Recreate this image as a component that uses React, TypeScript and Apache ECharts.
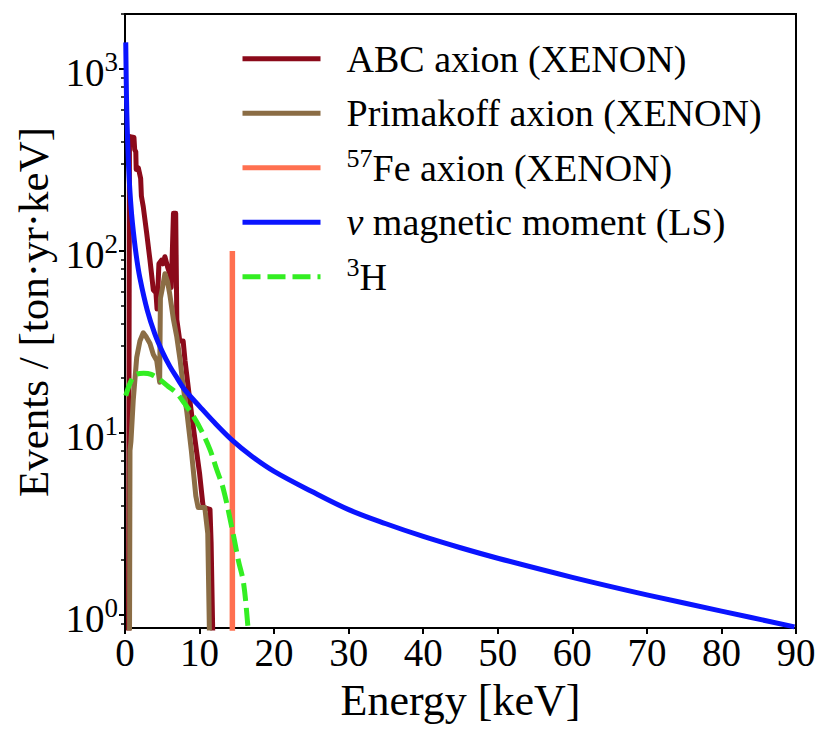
import React, { useEffect, useRef } from "react";
import * as echarts from "echarts";

const FONT = "'Liberation Serif', 'DejaVu Serif', serif";

// ---- axis settings (data units) ----
const xTickStep = 10;
const xMinValue = 0;
const xMaxValue = 90;
const yMinValue = 0.848;
const yMaxValue = 2004;
const yDecadeExponents = [0, 1, 2, 3];
const yMinorValues = [
  0.9,
  2, 3, 4, 5, 6, 7, 8, 9,
  20, 30, 40, 50, 60, 70, 80, 90,
  200, 300, 400, 500, 600, 700, 800, 900,
  2000,
];

// ---- series names ----
const seriesNames = [
  "ABC axion (XENON)",
  "Primakoff axion (XENON)",
  "57Fe axion (XENON)",
  "ν magnetic moment (LS)",
  "3H",
];

// ---- ABC axion (XENON) ----
const abcEnergy = [
  0.45, 0.6, 0.67, 1.2, 1.3, 1.45, 1.5, 1.8, 2.1, 2.2, 2.45, 2.9, 3.35, 3.8,
  4.15, 4.3, 4.55, 4.9, 5.1, 5.35, 5.7, 6.0, 6.2, 6.35, 6.5, 6.8, 6.95, 7.35,
  7.8, 8.05, 8.7, 9.4, 10.0, 10.4, 10.5, 11.4, 11.55, 11.9,
];
const abcEvents = [
  0.3, 400, 425, 420, 360, 350, 280, 285, 250, 200, 175, 126, 89, 61,
  59, 48, 85, 89, 85, 93, 82, 75, 63, 100, 161, 161, 42, 32,
  32, 25, 15, 9.1, 6.0, 4.2, 3.9, 3.8, 2.5, 0.4,
];

// ---- Primakoff axion (XENON) ----
const primEnergy = [
  0.58, 0.67, 0.8, 1.1, 1.57, 2.0, 2.45, 2.8, 3.35, 3.8, 4.25, 4.65, 4.75,
  5.0, 5.36, 5.7, 6.0, 6.5, 6.93, 7.4, 7.8, 8.3, 8.9, 9.5, 9.8, 10.7, 11.1,
  11.45,
];
const primEvents = [
  0.3, 8, 9, 15, 26, 32, 35.5, 34, 31, 27, 25, 19, 55,
  62, 75, 68, 58, 42, 34, 25, 18, 13, 8, 4.5, 3.9, 3.9, 2.8,
  0.4,
];

// ---- 57Fe axion (XENON) ----
const feEnergy = [14.4, 14.4];
const feEvents = [0.5, 100];

// ---- ν magnetic moment (LS) ----
const numuEnergy = [
  0.1, 0.2, 0.3, 0.5, 0.75, 1.0, 1.5, 2.0, 3.0, 4.0, 5.0, 6.0, 7.0, 8.0, 10,
  12, 14.4, 17, 20, 25, 30, 35, 40, 45, 50, 60, 70, 80, 89.8,
];
const numuEvents = [
  1400, 700, 470, 280, 188, 142, 95, 71, 47, 35, 28, 23.3, 20, 17.3, 14.0,
  11.4, 9.1, 7.45, 6.15, 4.78, 3.79, 3.17, 2.7, 2.34, 2.05, 1.61, 1.29, 1.05,
  0.86,
];

// ---- 3H ----
const h3Energy = [
  0.1, 0.5, 1.0, 1.5, 2.5, 3.5, 4.7, 5.8, 6.9, 8.0, 9.2, 10.3, 11.4, 12.3,
  13.2, 14.5, 15.2, 15.9, 16.5, 16.8,
];
const h3Events = [
  16, 18, 20, 21, 21.3, 21, 19.6, 18, 16.6, 14.5, 12.3, 10.2, 8.1, 6.3,
  4.9, 2.8, 2.0, 1.5, 0.85, 0.6,
];

const seriesColors = ["#8b0a1a", "#8b6d45", "#ff7050", "#0a14ff", "#33ee22"];

function toLogPairs(energy: number[], events: number[]) {
  return energy.map((e, i) => [e, Math.log10(events[i])]);
}

function legendLabel(name: string): string {
  if (name.startsWith("57")) return `{s|57}${name.slice(2)}`;
  if (name === "3H") return `{s|3}H`;
  if (name.startsWith("ν")) return `{i|ν}${name.slice(1)}`;
  return name;
}

export default function App() {
  const ref = useRef<HTMLDivElement>(null);

  useEffect(() => {
    if (!ref.current) return;
    const chart = echarts.init(ref.current, undefined, { renderer: "svg" });

    const yMin = Math.log10(yMinValue);
    const yMax = Math.log10(yMaxValue);
    const minorLogs = yMinorValues.map((v) => Math.log10(v));
    const LW = 5;

    const lineBase = (idx: number, energy: number[], events: number[], extra: any = {}, smooth: any = false) => ({
      type: "line",
      name: seriesNames[idx],
      data: toLogPairs(energy, events),
      symbol: "none",
      showSymbol: false,
      clip: true,
      silent: true,
      smooth,
      emphasis: { disabled: true },
      itemStyle: { color: seriesColors[idx] },
      lineStyle: {
        color: seriesColors[idx],
        width: LW,
        join: "round",
        ...extra,
      },
    });

    chart.setOption({
      animation: false,
      backgroundColor: "#ffffff",
      grid: {
        left: 125,
        right: 34,
        top: 14,
        bottom: 110,
        show: true,
        borderColor: "#000",
        borderWidth: 2,
        backgroundColor: "transparent",
      },
      legend: {
        orient: "vertical",
        left: 240,
        top: 36.7,
        padding: 0,
        itemGap: 10.5,
        itemWidth: 78,
        itemHeight: 5,
        itemStyle: { opacity: 0 },
        lineStyle: { width: LW },
        selectedMode: false,
        data: seriesNames,
        formatter: legendLabel,
        textStyle: {
          fontFamily: FONT,
          fontSize: 38,
          lineHeight: 44,
          color: "#000",
          padding: [0, 0, 0, 21],
          rich: {
            s: {
              fontFamily: FONT,
              fontSize: 26,
              lineHeight: 14,
              verticalAlign: "top",
              color: "#000",
            },
            i: {
              fontFamily: FONT,
              fontSize: 38,
              fontStyle: "italic",
              color: "#000",
            },
          },
        },
      },
      xAxis: {
        type: "value",
        min: xMinValue,
        max: xMaxValue,
        interval: xTickStep,
        name: "Energy [keV]",
        nameLocation: "middle",
        nameGap: 50,
        nameTextStyle: { fontFamily: FONT, fontSize: 44, color: "#000" },
        axisLine: { show: true, onZero: false, lineStyle: { color: "#000", width: 2 } },
        axisTick: { show: true, inside: false, length: 6, lineStyle: { color: "#000", width: 2 } },
        axisLabel: { fontFamily: FONT, fontSize: 39, color: "#000", margin: 5 },
        splitLine: { show: false },
      },
      yAxis: [
        {
          type: "value",
          min: yMin,
          max: yMax,
          name: "Events / [ton·yr·keV]",
          nameLocation: "middle",
          nameRotate: 90,
          nameGap: 67,
          nameTextStyle: {
            fontFamily: FONT,
            fontSize: 43,
            color: "#000",
            padding: [0, 0, 0, 18],
          },
          axisLine: { show: true, onZero: false, lineStyle: { color: "#000", width: 2 } },
          axisTick: {
            show: true,
            customValues: yDecadeExponents,
            length: 6,
            lineStyle: { color: "#000", width: 2 },
          },
          axisLabel: {
            customValues: yDecadeExponents,
            margin: 7,
            padding: [8, 0, 0, 0],
            formatter: (v: number) => `{b|10}{s|${Math.round(v)}}`,
            rich: {
              b: { fontFamily: FONT, fontSize: 39, lineHeight: 48, color: "#000" },
              s: {
                fontFamily: FONT,
                fontSize: 27,
                lineHeight: 14,
                verticalAlign: "top",
                color: "#000",
              },
            },
          },
          splitLine: { show: false },
        },
        {
          type: "value",
          min: yMin,
          max: yMax,
          position: "left",
          axisLine: { show: false },
          axisLabel: { show: false },
          splitLine: { show: false },
          axisTick: {
            show: true,
            customValues: minorLogs,
            length: 4,
            lineStyle: { color: "#000", width: 1.5 },
          },
        },
      ],
      series: [
        lineBase(0, abcEnergy, abcEvents),
        lineBase(1, primEnergy, primEvents),
        lineBase(2, feEnergy, feEvents, { width: 5.5, join: "miter" }),
        lineBase(3, numuEnergy, numuEvents, {}, 0.35),
        lineBase(4, h3Energy, h3Events, { type: [18, 7] }, 0.35),
      ],
    });

    return () => chart.dispose();
  }, []);

  return (
    <div
      ref={ref}
      style={{
        position: "fixed",
        left: 0,
        top: 0,
        width: 830,
        height: 738,
        background: "#fff",
      }}
    />
  );
}
